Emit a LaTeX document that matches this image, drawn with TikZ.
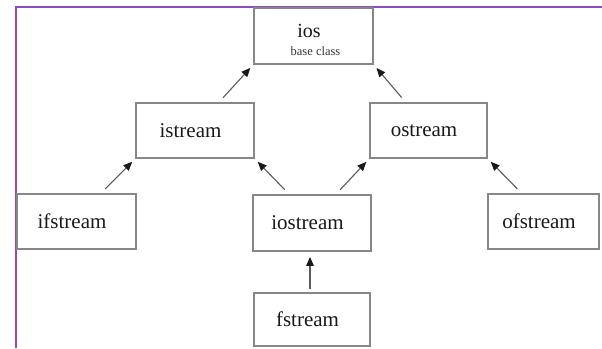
\documentclass[tikz,border=0pt]{standalone}
\usepackage{fontspec}
\setmainfont{Liberation Serif}
\usetikzlibrary{arrows.meta}
\definecolor{framepurple}{RGB}{139,78,190}
\definecolor{boxgray}{RGB}{135,135,135}
\definecolor{linkgray}{RGB}{90,90,90}
\tikzset{
  classbox/.style={draw=boxgray, line width=1.8pt, rectangle, inner sep=0pt},
  lbl/.style={font=\fontsize{21}{21}\selectfont, text=black!90, xshift=-4.5pt},
  inherit/.style={draw=linkgray, line width=1.1pt,
    -{Triangle[length=9pt,width=7.5pt,color=black!90,fill=black!90]},
    shorten <=6pt, shorten >=4pt},
}
\begin{document}
\begin{tikzpicture}[x=1pt, y=-1pt]
  \useasboundingbox (0,0) rectangle (602,348);
  % frame lines along the top and left edge
  \draw[framepurple, line width=2.5pt] (15,7) -- (602,7);
  \draw[framepurple, line width=2.5pt] (16,5.8) -- (16,348);

  % class boxes
  \node[classbox, minimum width=119pt, minimum height=56pt] (ios) at (313.5,36) {};
  \node[anchor=base, font=\fontsize{20}{20}\selectfont, text=black!90] (iostitle) at (309,37.5) {ios};
  \node[anchor=base, font=\fontsize{12.5}{12.5}\selectfont, text=black!80] (iosnote) at (315.5,55) {base class};

  \node[classbox, minimum width=118pt, minimum height=55pt,
        label={[lbl]center:istream}] (istream) at (195,130.5) {};
  \node[classbox, minimum width=117pt, minimum height=55pt,
        label={[lbl]center:ostream}] (ostream) at (428.5,130.5) {};
  \node[classbox, minimum width=119pt, minimum height=55pt,
        label={[lbl]center:ifstream}] (ifstream) at (76.5,221.5) {};
  \node[classbox, minimum width=118pt, minimum height=56pt,
        label={[lbl]center:iostream}] (iostream) at (312,223) {};
  \node[classbox, minimum width=111pt, minimum height=55pt,
        label={[lbl]center:ofstream}] (ofstream) at (543.5,221.5) {};
  \node[classbox, minimum width=116pt, minimum height=53pt,
        label={[lbl]center:fstream}] (fstream) at (312,319.5) {};

  % inheritance arrows, child to parent
  \draw[inherit] ([xshift=24pt]istream.north) -- (ios.south west);
  \draw[inherit] ([xshift=-23pt]ostream.north) -- (ios.south east);
  \draw[inherit] ([xshift=24.5pt]ifstream.north) -- (istream.south west);
  \draw[inherit] ([xshift=-23pt]iostream.north) -- (istream.south east);
  \draw[inherit] ([xshift=24pt]iostream.north) -- (ostream.south west);
  \draw[inherit] ([xshift=-22pt]ofstream.north) -- (ostream.south east);
  \draw[inherit, shorten <=3pt, shorten >=5pt] ([xshift=-2pt]fstream.north) -- ([xshift=-2pt]iostream.south);
\end{tikzpicture}
\end{document}
